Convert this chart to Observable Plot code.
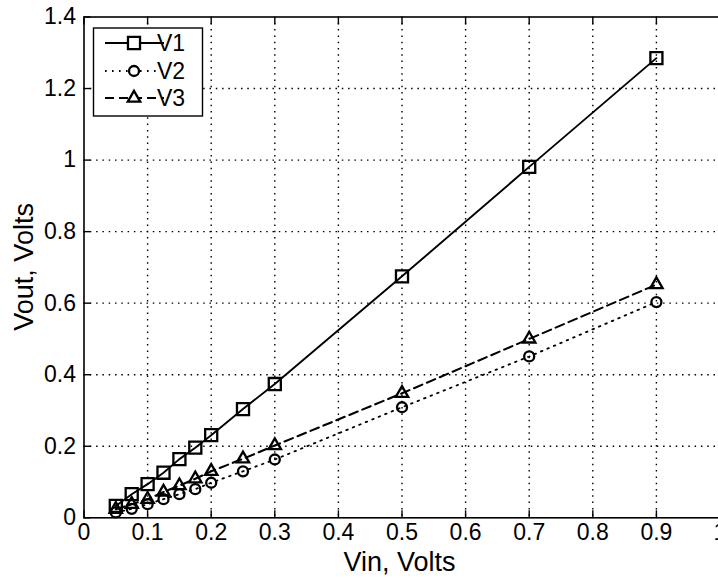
<!DOCTYPE html>
<html><head><meta charset="utf-8">
<script src="https://cdn.jsdelivr.net/npm/d3@7"></script>
<script src="https://cdn.jsdelivr.net/npm/@observablehq/plot@0.6"></script>
<style>
body{margin:0;background:#fff;}
svg{font-family:"Liberation Sans Narrow","Liberation Sans",Arial,sans-serif;}
</style></head>
<body><div id="chart"></div>
<script>
const vin = [0.05, 0.075, 0.1, 0.125, 0.15, 0.175, 0.2, 0.25, 0.3, 0.5, 0.7, 0.9];
const v1 = [0.033, 0.066, 0.094, 0.126, 0.164, 0.196, 0.231, 0.304, 0.374, 0.675, 0.981, 1.285];
const v2 = [0.015, 0.025, 0.038, 0.052, 0.066, 0.080, 0.098, 0.130, 0.163, 0.309, 0.451, 0.603];
const v3 = [0.024, 0.038, 0.052, 0.072, 0.090, 0.109, 0.130, 0.165, 0.202, 0.348, 0.500, 0.652];
const xTicks = [0, 0.1, 0.2, 0.3, 0.4, 0.5, 0.6, 0.7, 0.8, 0.9, 1];
const yTicks = [0, 0.2, 0.4, 0.6, 0.8, 1, 1.2, 1.4];
const xLabel = "Vin, Volts";
const yLabel = "Vout, Volts";
const seriesNames = ["V1", "V2", "V3"];

const d1 = vin.map((x, i) => ({x, y: v1[i]}));
const d2 = vin.map((x, i) => ({x, y: v2[i]}));
const d3v = vin.map((x, i) => ({x, y: v3[i]}));

const W = 718, H = 578;
const fmt = d => String(+d.toFixed(1));
const gridT = xTicks.filter(t => t > 0 && t < 1);
const gridTy = yTicks.filter(t => t > 0 && t < 1.4);

const plot = Plot.plot({
  width: W, height: H,
  marginLeft: 83.5, marginRight: -1.5, marginTop: 16.5, marginBottom: 60.7,
  x: {domain: [0, 1]},
  y: {domain: [0, 1.4]},
  style: {fontSize: "23px", color: "#000", background: "#fff"},
  marks: [
    Plot.gridX(gridT, {stroke: "#000", strokeOpacity: 1, strokeDasharray: "1.5,4.8", strokeWidth: 1.4}),
    Plot.gridY(gridTy, {stroke: "#000", strokeOpacity: 1, strokeDasharray: "1.5,4.8", strokeWidth: 1.4}),
    Plot.axisX(xTicks, {anchor: "bottom", tickSize: -7, tickPadding: 13, tickFormat: fmt, label: null, stroke: "#000", strokeWidth: 1.4}),
    Plot.axisX(xTicks, {anchor: "top", tickSize: -7, tickFormat: () => "", label: null, stroke: "#000", strokeWidth: 1.4}),
    Plot.axisY(yTicks, {anchor: "left", tickSize: -7, tickPadding: 15, tickFormat: fmt, label: null, stroke: "#000", strokeWidth: 1.4}),
    Plot.frame({stroke: "#000", strokeWidth: 1.6}),
    Plot.line(d1, {x: "x", y: "y", stroke: "#000", strokeWidth: 1.9}),
    Plot.line(d2, {x: "x", y: "y", stroke: "#000", strokeWidth: 1.8, strokeDasharray: "1.6,5.4"}),
    Plot.line(d3v, {x: "x", y: "y", stroke: "#000", strokeWidth: 2.1, strokeDasharray: "9,5"}),
    Plot.dot(d1, {x: "x", y: "y", symbol: "square", r: 6.8, stroke: "#000", strokeWidth: 2.3, fill: "none"}),
    Plot.dot(d2, {x: "x", y: "y", symbol: "circle", r: 5, stroke: "#000", strokeWidth: 2.3, fill: "none"}),
    Plot.dot(d3v, {x: "x", y: "y", symbol: "triangle", r: 4.6, stroke: "#000", strokeWidth: 2.3, fill: "none"})
  ]
});
document.getElementById("chart").appendChild(plot);

const svg = d3.select(plot);
const sx = plot.scale("x"), sy = plot.scale("y");
// axis titles
svg.append("text").attr("x", (sx.apply(0) + sx.apply(1)) / 2 - 2).attr("y", 571)
  .attr("text-anchor", "middle").attr("font-family", "Liberation Sans, Arial, sans-serif")
  .attr("font-size", 27).attr("fill", "#000").text(xLabel);
svg.append("text").attr("transform", `translate(33,${(sy.apply(0) + sy.apply(1.4)) / 2}) rotate(-90)`)
  .attr("text-anchor", "middle").attr("font-family", "Liberation Sans, Arial, sans-serif")
  .attr("font-size", 27).attr("fill", "#000").text(yLabel);

// legend
const lg = svg.append("g");
lg.append("rect").attr("x", 93.5).attr("y", 28).attr("width", 109).attr("height", 88)
  .attr("fill", "#fff").attr("stroke", "#000").attr("stroke-width", 1.4);
const rows = [
  {y: 43, dash: null, w: 1.9, sym: d3.symbolSquare, size: Math.PI * 6.8 * 6.8},
  {y: 71, dash: "1.6,5.4", w: 1.8, sym: d3.symbolCircle, size: Math.PI * 25},
  {y: 98, dash: "9,5", w: 2.1, sym: d3.symbolTriangle, size: Math.PI * 4.6 * 4.6}
];
rows.forEach((r, i) => {
  const ln = lg.append("line").attr("x1", 105).attr("x2", 164).attr("y1", r.y).attr("y2", r.y)
    .attr("stroke", "#000").attr("stroke-width", r.w);
  if (r.dash) ln.attr("stroke-dasharray", r.dash);
  lg.append("path").attr("d", d3.symbol(r.sym, r.size)()).attr("transform", `translate(134,${r.y})`)
    .attr("fill", "#fff").attr("stroke", "#000").attr("stroke-width", 2.3);
  lg.append("text").attr("x", 171).attr("y", r.y).attr("dy", "0.36em")
    .attr("font-size", 23).attr("fill", "#000").text(seriesNames[i]);
});
</script></body></html>
